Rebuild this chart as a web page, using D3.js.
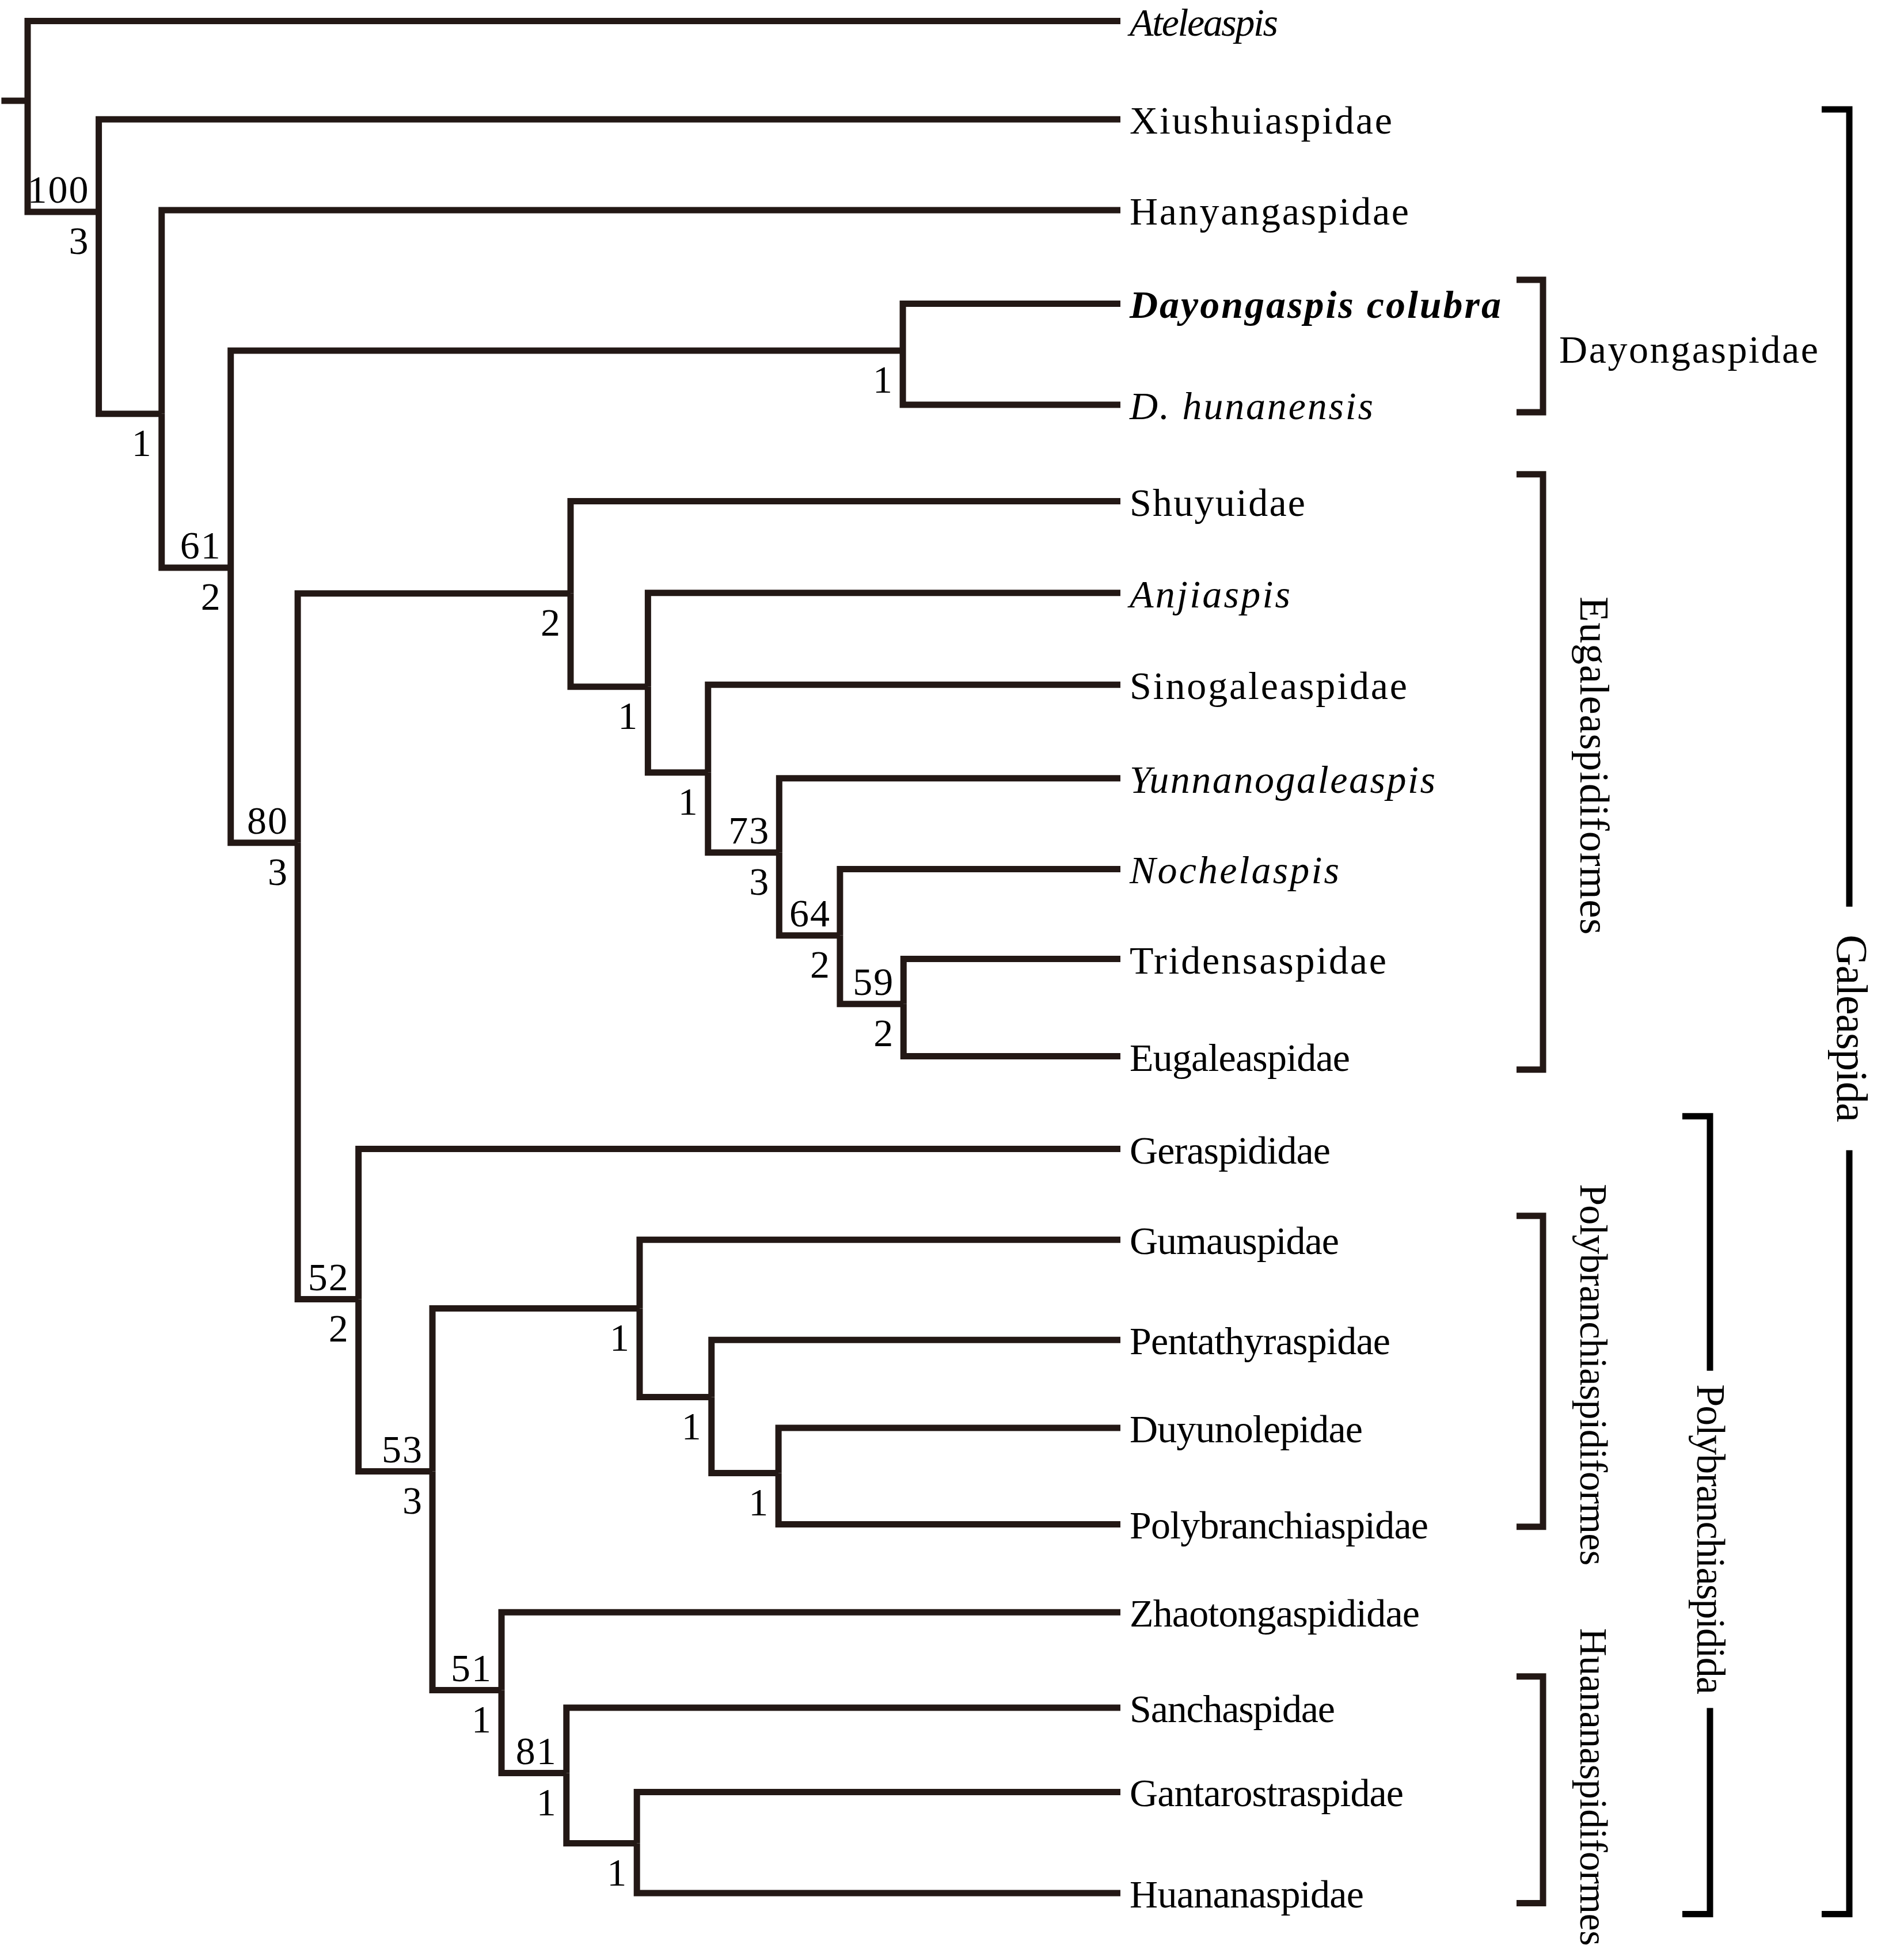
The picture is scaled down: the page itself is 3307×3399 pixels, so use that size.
<!DOCTYPE html>
<html><head><meta charset="utf-8">
<script src="https://cdn.jsdelivr.net/npm/d3@7"></script>
<style>html,body{margin:0;padding:0;background:#fff}</style>
</head><body>
<svg id="chart" width="3307" height="3399"></svg>
<script>
// ---------------- DATA ----------------
const leafNames = ["Ateleaspis","Xiushuiaspidae","Hanyangaspidae","Dayongaspis colubra","D. hunanensis",
  "Shuyuidae","Anjiaspis","Sinogaleaspidae","Yunnanogaleaspis","Nochelaspis","Tridensaspidae","Eugaleaspidae",
  "Geraspididae","Gumauspidae","Pentathyraspidae","Duyunolepidae","Polybranchiaspidae","Zhaotongaspididae",
  "Sanchaspidae","Gantarostraspidae","Huananaspidae"];
// vertical position of each terminal (row units)
const leafRows = [0, 1.05, 2.02, 3.02, 4.10, 5.13, 6.11, 7.09, 8.09, 9.06, 10.02, 11.06,
  12.05, 13.02, 14.09, 15.03, 16.06, 17.00, 18.02, 18.92, 20.00];
const tipDepth = 15.82;

// internal nodes
const nodeIds    = ["root","n100","n1a","n61","nDay","n80","nEug","nAnj","nSin","n73","n64","n59",
                    "n52","n53","nPoly","nPen","nDuy","n51","n81","nGan"];
const nodeDepths = [0, 1.03, 1.94, 2.94, 12.67, 3.91, 7.86, 8.98, 9.85, 10.88, 11.76, 12.68,
                    4.79, 5.86, 8.86, 9.90, 10.87, 6.86, 7.80, 8.82];
const nodeRows   = [0.852, 2.039, 4.197, 5.840, 3.521, 8.779, 6.116, 7.112, 8.028, 8.884, 9.770, 10.502,
                    13.656, 15.495, 13.754, 14.701, 15.513, 17.832, 18.718, 19.468];
const nodeChildren = [
  ["Ateleaspis","n100"], ["Xiushuiaspidae","n1a"], ["Hanyangaspidae","n61"], ["nDay","n80"],
  ["Dayongaspis colubra","D. hunanensis"], ["nEug","n52"], ["Shuyuidae","nAnj"], ["Anjiaspis","nSin"],
  ["Sinogaleaspidae","n73"], ["Yunnanogaleaspis","n64"], ["Nochelaspis","n59"], ["Tridensaspidae","Eugaleaspidae"],
  ["Geraspididae","n53"], ["nPoly","n51"], ["Gumauspidae","nPen"], ["Pentathyraspidae","nDuy"],
  ["Duyunolepidae","Polybranchiaspidae"], ["Zhaotongaspididae","n81"], ["Sanchaspidae","nGan"],
  ["Gantarostraspidae","Huananaspidae"]];
const bootstrapValues = ["","100","","61","","80","","","","73","64","59","52","53","","","","51","81",""];
const bremerValues    = ["","3","1","2","1","3","2","1","1","3","2","2","2","3","1","1","1","1","1","1"];

// small taxon brackets
const groupNames   = ["Dayongaspidae","Eugaleaspidiformes","Polybranchiaspidiformes","Huananaspidiformes"];
const groupTop     = [2.765, 4.843, 12.765, 17.685];
const groupBottom  = [4.179, 11.202, 16.086, 20.108];
const groupCenter  = [3.47, 7.955, 14.462, 18.866];
// large brackets
const cladeNames   = ["Polybranchiaspidida","Galeaspida"];
const cladeTop     = [11.701, 0.944];
const cladeBottom  = [20.225, 20.225];
const cladeGapTop  = [14.419, 9.462];
const cladeGapBot  = [18.023, 12.063];

// ---------------- STYLE / LAYOUT ----------------
const leafFontStyle  = ["italic","normal","normal","italic","italic","normal","italic","normal","italic","italic",
  "normal","normal","normal","normal","normal","normal","normal","normal","normal","normal","normal"];
const leafFontWeight = leafNames.map(n => n === "Dayongaspis colubra" ? "bold" : "normal");
const leafLabelWidths = [258,456,485,645,423,305,279,482,531,364,446,383,349,364,453,405,519,504,357,476,407];
const groupLabelLengths = [450, 587, 663, 552];
const groupFontSizes    = [68, 72, 68, 68];
const cladeLabelLengths = [539, 326];
const cladeFontSizes    = [70, 76];

const W = 3307, H = 3399;
const LINE = "#231815";
const FONT = "Liberation Serif, Times New Roman, Times, serif";
const svg = d3.select("#chart");
svg.append("rect").attr("width", W).attr("height", H).attr("fill", "#fff");

const x = d3.scaleLinear().domain([0, tipDepth]).range([48, 1946]);
const y = d3.scaleLinear().domain([0, 20]).range([36.5, 3288]);

// build tree
const lookup = {};
leafNames.forEach((n, i) => lookup[n] = {id: n, depth: tipDepth, row: leafRows[i], leaf: true, idx: i});
nodeIds.forEach((id, i) => lookup[id] = {id, depth: nodeDepths[i], row: nodeRows[i], leaf: false, idx: i});
nodeIds.forEach((id, i) => lookup[id].children = nodeChildren[i].map(c => lookup[c]));
const root = d3.hierarchy(lookup["root"], d => d.children);

const g = svg.append("g");
// links (elbow)
g.selectAll("path.link").data(root.links()).join("path")
  .attr("class", "link")
  .attr("fill", "none").attr("stroke", LINE).attr("stroke-width", 11)
  .attr("stroke-linejoin", "miter").attr("stroke-linecap", "butt")
  .attr("d", l => `M${x(l.source.data.depth)},${y(l.source.data.row)}V${y(l.target.data.row)}H${x(l.target.data.depth)}`);
// root stub
g.append("path").attr("fill", "none").attr("stroke", LINE).attr("stroke-width", 11)
  .attr("d", `M${x(-0.38)},${y(root.data.row)}H${x(0)}`);

// leaf labels
g.selectAll("text.leaf").data(root.leaves()).join("text")
  .attr("class", "leaf")
  .attr("x", 1962).attr("y", d => y(d.data.row) + 25)
  .attr("font-family", FONT).attr("font-size", 68).attr("fill", "#000")
  .attr("font-style", d => leafFontStyle[d.data.idx])
  .attr("font-weight", d => leafFontWeight[d.data.idx])
  .attr("textLength", d => leafLabelWidths[d.data.idx]).attr("lengthAdjust", "spacing")
  .text(d => d.data.id);

// support values
const internals = root.descendants().filter(d => !d.data.leaf);
g.selectAll("text.boot").data(internals.filter(d => bootstrapValues[d.data.idx])).join("text")
  .attr("class", "boot")
  .attr("x", d => x(d.data.depth) - 16).attr("y", d => y(d.data.row) - 16)
  .attr("text-anchor", "end").attr("font-family", FONT).attr("font-size", 68).attr("fill", "#000")
  .attr("letter-spacing", 2)
  .text(d => bootstrapValues[d.data.idx]);
g.selectAll("text.brem").data(internals.filter(d => bremerValues[d.data.idx])).join("text")
  .attr("class", "brem")
  .attr("x", d => x(d.data.depth) - 18).attr("y", d => y(d.data.row) + 73)
  .attr("text-anchor", "end").attr("font-family", FONT).attr("font-size", 68).attr("fill", "#000")
  .text(d => bremerValues[d.data.idx]);

// small brackets
const bx = 2680, btick = 2634;
groupNames.forEach((name, i) => {
  g.append("path").attr("fill", "none").attr("stroke", LINE).attr("stroke-width", 11)
    .attr("stroke-linejoin", "miter")
    .attr("d", `M${btick},${y(groupTop[i])}H${bx}V${y(groupBottom[i])}H${btick}`);
  if (i === 0) {
    g.append("text").attr("x", 2708).attr("y", y(groupCenter[i]) + 29)
      .attr("font-family", FONT).attr("font-size", groupFontSizes[i]).attr("fill", "#000")
      .attr("textLength", groupLabelLengths[i]).attr("lengthAdjust", "spacing")
      .text(name);
  } else {
    g.append("text")
      .attr("transform", `translate(2745,${y(groupCenter[i])}) rotate(90)`)
      .attr("text-anchor", "middle")
      .attr("font-family", FONT).attr("font-size", groupFontSizes[i]).attr("fill", "#000")
      .attr("textLength", groupLabelLengths[i]).attr("lengthAdjust", "spacing")
      .text(name);
  }
});

// large brackets
const cladeX = [2970, 3212], cladeTick = [2922, 3164], cladeBase = [2948, 3191];
cladeNames.forEach((name, i) => {
  g.append("path").attr("fill", "none").attr("stroke", "#000").attr("stroke-width", 11)
    .attr("stroke-linejoin", "miter")
    .attr("d", `M${cladeTick[i]},${y(cladeTop[i])}H${cladeX[i]}V${y(cladeGapTop[i])}`);
  g.append("path").attr("fill", "none").attr("stroke", "#000").attr("stroke-width", 11)
    .attr("stroke-linejoin", "miter")
    .attr("d", `M${cladeX[i]},${y(cladeGapBot[i])}V${y(cladeBottom[i])}H${cladeTick[i]}`);
  const cy = (y(cladeGapTop[i]) + y(cladeGapBot[i])) / 2;
  g.append("text")
    .attr("transform", `translate(${cladeBase[i]},${cy}) rotate(90)`)
    .attr("text-anchor", "middle")
    .attr("font-family", FONT).attr("font-size", cladeFontSizes[i]).attr("fill", "#000")
    .attr("textLength", cladeLabelLengths[i]).attr("lengthAdjust", "spacing")
    .text(name);
});
</script>
</body></html>
